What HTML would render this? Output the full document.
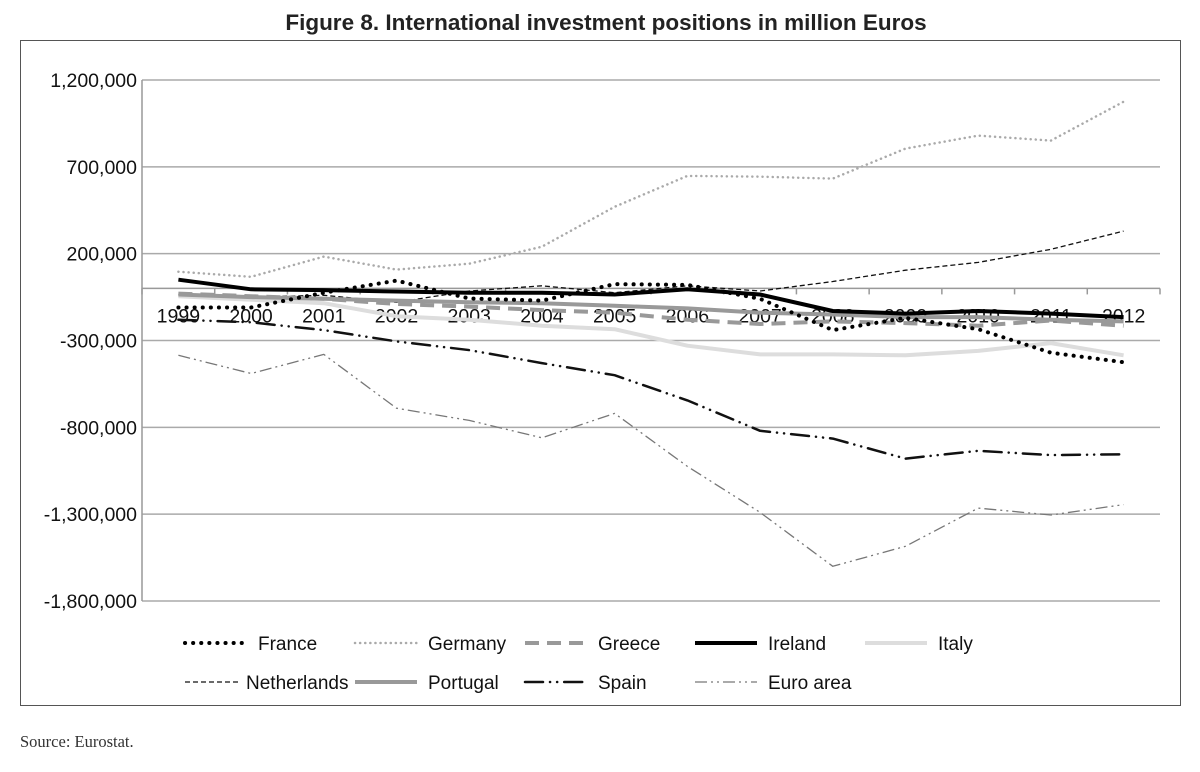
<!DOCTYPE html>
<html><head><meta charset="utf-8"><style>
body{margin:0;background:#fff;width:1200px;height:767px;overflow:hidden}
svg text{font-family:"Liberation Sans",sans-serif}
</style></head><body>
<svg width="1200" height="767">
<text x="606" y="30" text-anchor="middle" font-size="22.5" font-weight="bold" fill="#222">Figure 8. International investment positions in million Euros</text>
<rect x="20.5" y="40.5" width="1160" height="665" fill="none" stroke="#555" stroke-width="1"/>
<g id="grid"></g>
<g id="series"></g>
<g id="legend"></g>
<text x="20" y="747" font-size="16.5" fill="#333" style="font-family:'Liberation Serif',serif">Source: Eurostat.</text>
</svg>
<script>
const years=["1999","2000","2001","2002","2003","2004","2005","2006","2007","2008","2009","2010","2011","2012"];
const yTicks=[1200000,700000,200000,-300000,-800000,-1300000,-1800000];
const yTickLabels=["1,200,000","700,000","200,000","-300,000","-800,000","-1,300,000","-1,800,000"];
const france=[-110000,-110000,-25000,45000,-58000,-70000,25000,20000,-60000,-240000,-170000,-235000,-370000,-425000];
const germany=[96000,67000,183000,108000,142000,240000,470000,648000,643000,632000,805000,880000,851000,1075000];
const greece=[-30000,-45000,-60000,-90000,-105000,-125000,-140000,-180000,-205000,-190000,-200000,-215000,-185000,-215000];
const ireland=[50000,-5000,-10000,-18000,-25000,-25000,-35000,-5000,-35000,-130000,-145000,-130000,-145000,-165000];
const italy=[-45000,-65000,-85000,-160000,-180000,-215000,-235000,-330000,-380000,-380000,-385000,-360000,-315000,-385000];
const netherlands=[-35000,-50000,-40000,-80000,-15000,15000,-25000,15000,-15000,40000,105000,150000,225000,330000];
const portugal=[-35000,-50000,-60000,-70000,-80000,-85000,-100000,-115000,-140000,-150000,-165000,-165000,-180000,-190000];
const spain=[-180000,-195000,-240000,-305000,-355000,-430000,-500000,-645000,-820000,-865000,-980000,-935000,-960000,-955000];
const euroArea=[-385000,-490000,-380000,-690000,-760000,-860000,-720000,-1025000,-1290000,-1600000,-1485000,-1265000,-1305000,-1245000];

const NS="http://www.w3.org/2000/svg";
const X0=142,X1=1160,Ytop=80,Ybot=601;
const yMax=1200000,yMin=-1800000;
const step=(X1-X0)/years.length;
function xs(i){return X0+step*(i+0.5);}
function ys(v){return Ytop+(yMax-v)/(yMax-yMin)*(Ybot-Ytop);}
function mk(tag,attrs,parent){const e=document.createElementNS(NS,tag);for(const k in attrs)e.setAttribute(k,attrs[k]);parent.appendChild(e);return e;}
const grid=document.getElementById('grid');
yTicks.forEach((t,i)=>{
  const y=ys(t);
  const l=mk('line',{x1:X0,x2:X1,y1:y,y2:y,stroke:'#aaa','stroke-width':1.5},grid);
  
  
  const tx=mk('text',{x:X0-5,y:y+7,'text-anchor':'end','font-size':19.5,fill:'#111'},grid);
  tx.textContent=yTickLabels[i];
  
  
});
const ya=mk('line',{x1:X0,x2:X0,y1:Ytop,y2:Ybot,stroke:'#999','stroke-width':1.5},grid);


const y0=ys(0);
const xa=mk('line',{x1:X0,x2:X1,y1:y0,y2:y0,stroke:'#999','stroke-width':1.5},grid);


for(let i=0;i<=years.length;i++){
  const x=X0+step*i;
  const tk=mk('line',{x1:x,x2:x,y1:y0,y2:y0+6,stroke:'#999','stroke-width':1.5},grid);
  
  
}
const seriesDefs=[
 {name:'Netherlands',d:netherlands,st:{stroke:'#111','stroke-width':1.3,'stroke-dasharray':'5,3'}},
 {name:'Euro area',d:euroArea,st:{stroke:'#777','stroke-width':1.3,'stroke-dasharray':'12,4,2,4,2,4'}},
 {name:'Italy',d:italy,st:{stroke:'#ddd','stroke-width':4}},
 {name:'Portugal',d:portugal,st:{stroke:'#999','stroke-width':4}},
 {name:'Greece',d:greece,st:{stroke:'#999','stroke-width':4,'stroke-dasharray':'14,8'}},
 {name:'Germany',d:germany,st:{stroke:'#aaa','stroke-width':2.5,'stroke-dasharray':'0.1,5','stroke-linecap':'round'}},
 {name:'Spain',d:spain,st:{stroke:'#111','stroke-width':2.5,'stroke-dasharray':'18,7,0.1,7,0.1,7','stroke-linecap':'round'}},
 {name:'Ireland',d:ireland,st:{stroke:'#000','stroke-width':4}},
 {name:'France',d:france,st:{stroke:'#000','stroke-width':4,'stroke-dasharray':'0.1,8','stroke-linecap':'round'}}
];
const sg=document.getElementById('series');
seriesDefs.forEach(s=>{
  const pts=s.d.map((v,i)=>xs(i).toFixed(1)+','+ys(v).toFixed(1)).join(' ');
  const p=mk('polyline',Object.assign({points:pts,fill:'none','stroke-linejoin':'round'},s.st),sg);
  
  
});
years.forEach((yr,i)=>{
  const t=mk('text',{x:xs(i),y:y0+34,'text-anchor':'middle','font-size':19.5,fill:'#111'},grid);
  t.textContent=yr;
  
  
});
const lg=document.getElementById('legend');
const byName={};seriesDefs.forEach(s=>byName[s.name]=s);
const legendRows=[["France","Germany","Greece","Ireland","Italy"],["Netherlands","Portugal","Spain","Euro area"]];
const lgX=[185,355,525,695,865];
legendRows.forEach((row,r)=>{
  const y=r===0?643:682;
  row.forEach((n,c)=>{
    const x=lgX[c];
    const ln=mk('line',Object.assign({x1:x,x2:x+(n==='Netherlands'?56:62),y1:y,y2:y},byName[n].st),lg);
    
    
    const t=mk('text',{x:x+(n==='Netherlands'?61:73),y:y+7,'font-size':19,fill:'#111'},lg);
    t.textContent=n;
    
    
  });
});
</script>
</body></html>
